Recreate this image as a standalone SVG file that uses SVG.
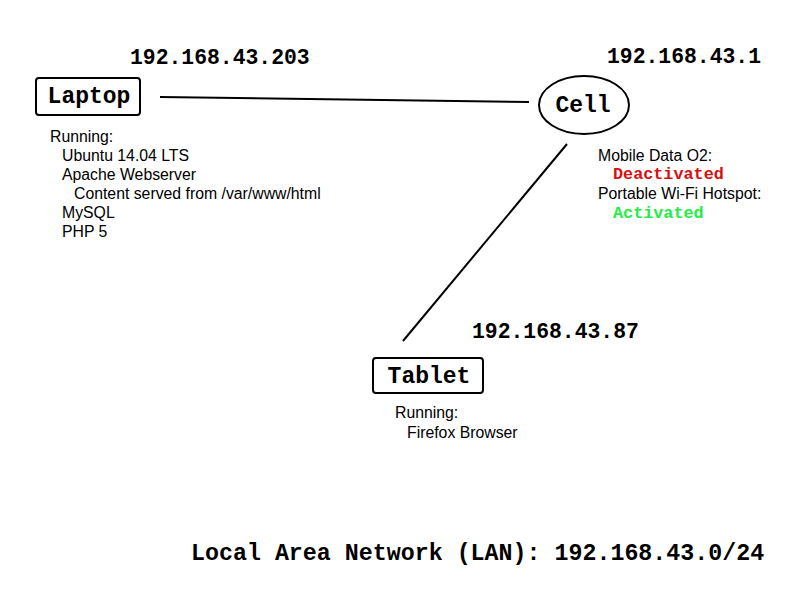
<svg xmlns="http://www.w3.org/2000/svg" width="800" height="600" viewBox="0 0 800 600">
<style>
.ip{font-family:"Liberation Mono","Courier New",monospace;font-weight:bold;font-size:21.4px;fill:#000}
.lbl{font-family:"Liberation Mono","Courier New",monospace;font-weight:bold;font-size:23px;fill:#000}
.body{font-family:"Liberation Sans",Arial,sans-serif;font-size:15.8px;fill:#000}
.st{font-family:"Liberation Mono","Courier New",monospace;font-weight:bold;font-size:16.8px}
.box{fill:#fff;stroke:#000;stroke-width:2}
.edge{stroke:#000;stroke-width:2;fill:none}
</style>
<rect width="800" height="600" fill="#fff"/>
<g id="connectors">
<line class="edge" x1="160" y1="97" x2="529" y2="102"/>
<line class="edge" x1="567" y1="144" x2="403" y2="341"/>
</g>
<g id="laptop">
<text class="ip" x="130" y="64">192.168.43.203</text>
<rect class="box" x="36" y="78" width="104" height="37" rx="3"/>
<text class="lbl" x="89" y="103" text-anchor="middle">Laptop</text>
<text class="body" x="50" y="142">Running:</text>
<text class="body" x="62" y="161">Ubuntu 14.04 LTS</text>
<text class="body" x="62" y="180">Apache Webserver</text>
<text class="body" x="74" y="199">Content served from /var/www/html</text>
<text class="body" x="62" y="218">MySQL</text>
<text class="body" x="62" y="237">PHP 5</text>
</g>
<g id="cell">
<text class="ip" x="607" y="63">192.168.43.1</text>
<ellipse class="box" cx="584" cy="105" rx="45" ry="29"/>
<text class="lbl" x="583" y="112" text-anchor="middle">Cell</text>
<text class="body" x="598" y="161">Mobile Data O2:</text>
<text class="st" x="613" y="179" fill="#d81010">Deactivated</text>
<text class="body" x="598" y="199">Portable Wi-Fi Hotspot:</text>
<text class="st" x="613" y="218" fill="#22ee44">Activated</text>
</g>
<g id="tablet">
<text class="ip" x="472" y="338">192.168.43.87</text>
<rect class="box" x="373" y="358" width="110" height="35" rx="3"/>
<text class="lbl" x="429" y="383" text-anchor="middle">Tablet</text>
<text class="body" x="395" y="418">Running:</text>
<text class="body" x="407" y="438">Firefox Browser</text>
</g>
<g id="lan">
<text class="ip" x="191" y="560" style="font-size:23.3px">Local Area Network (LAN): 192.168.43.0/24</text>
</g>
</svg>
